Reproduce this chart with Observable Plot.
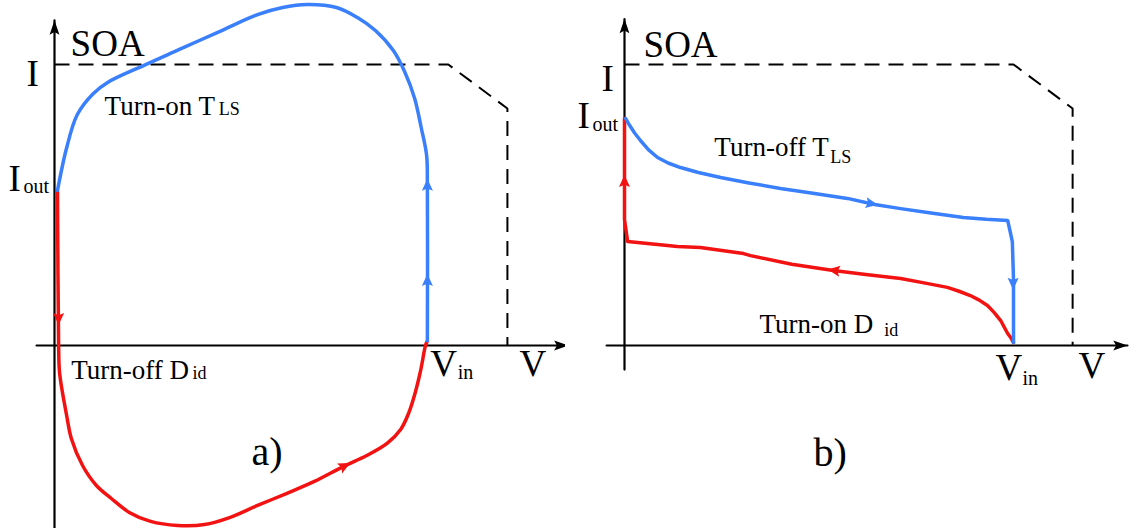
<!DOCTYPE html>
<html><head><meta charset="utf-8">
<script src="https://cdn.jsdelivr.net/npm/d3@7"></script>
<script src="https://cdn.jsdelivr.net/npm/@observablehq/plot@0.6"></script>
<style>
body{margin:0;background:#fff}
#chart{display:flex;width:1130px;height:528px;overflow:hidden}
#chart svg{flex:none}
</style>
</head><body><div id="chart"></div>
<script>
// ---- Panel a data: x = V (Vin = 100), y = I (Iout = 100) ----
const turnOnTLS_a = [[99.7,3],[99.7,105],[99.5,122.6],[98.1,140],[96.3,159.4],[93.6,176.8],[90.6,190.3],[85.8,203.2],[81.0,211.6],[75.4,218.1],[67.6,220],[61.0,218.1],[54.3,213.5],[44.7,203.2],[33.4,191],[23.8,180.6],[14.2,169.7],[10.4,162.6],[6.1,149],[3.2,127.1],[0.8,100]];
const turnOffDid_a = [[0.8,100],[1.1,0],[1.3,-16],[1.9,-27],[3.2,-44.5],[4.5,-60],[7.5,-77.4],[11.2,-90.3],[15.2,-98.7],[20,-107.7],[25.7,-113.5],[32.9,-116.1],[40.1,-115.5],[46.8,-111],[54.3,-103.2],[62,-95.5],[69.5,-87.7],[77.3,-78],[83.5,-71],[89,-63],[92.6,-54],[94.8,-43],[96.5,-30],[97.9,-16.1],[99.2,0],[99.7,3]];
const blueHeads_a = [[99.7,102.7,0],[99.7,41.3,0]];
const redHeads_a = [[1.1,18.1,180],[77.3,-78,63]];
const soa_a = [[0,181.3],[105.3,181.3],[121.1,152.9],[121.1,0]];
const vAxis_a = [[-4.8,0],[137.4,0]];
const iAxis_a = [[0,-118],[0,209.7]];
const axisHeads_a = [[135.0,0,90],[0,203.9,0]];
const labels_a = [
  {v:4.3, i:186.5, text:"SOA", role:"big"},
  {v:-7.5, i:167.7, text:"I", role:"big"},
  {v:-12.3, i:100, text:"I", role:"big"},
  {v:-8.3, i:98.7, text:"out", role:"sub"},
  {v:13.4, i:149, text:"Turn-on T", role:"med"},
  {v:43.9, i:149, text:"LS", role:"sub2"},
  {v:4.5, i:-21.9, text:"Turn-off D", role:"med"},
  {v:36.9, i:-21.9, text:"id", role:"sub2"},
  {v:100.5, i:-19.4, text:"V", role:"big"},
  {v:107.8, i:-21.9, text:"in", role:"sub"},
  {v:124.3, i:-19.4, text:"V", role:"big"},
  {v:52.7, i:-77.4, text:"a)", role:"panel"}
];

// ---- Panel b data ----
const turnOffTLS_b = [[0.3,100],[1.3,97],[2.6,93.6],[4.1,90.3],[6.2,86.2],[8.5,82.8],[11.2,80.4],[14.4,78.4],[19,76.2],[24.7,74],[32,71.6],[40.1,69.2],[48,67.2],[57.3,64.8],[64.3,62.1],[71,60.3],[77.9,58.6],[87.1,56.4],[93,55.6],[98.5,55.1],[99.3,49],[99.7,45.8],[100,29.1],[100,1.3]];
const turnOnDid_b = [[100,1.3],[99.4,3.2],[98.5,5.3],[96.7,11],[95,14.6],[93.3,17.6],[91.2,20],[88.9,22],[86,23.9],[83.0,25.6],[77,27.6],[71.0,29.5],[62,31.3],[53.7,33],[43,35.8],[32.4,39.6],[30.6,40.5],[19.5,43.2],[13.6,43.6],[0.8,45.8],[0,55.5],[0,100]];
const blueHeads_b = [[63.2,62.6,100],[99.9,27.8,180]];
const redHeads_b = [[54.2,33,278],[0,71.8,0]];
const soa_b = [[0,123.8],[100,123.8],[115.2,104.4],[115.2,0]];
const vAxis_b = [[-4.6,0],[129.3,0]];
const iAxis_b = [[0,-10.6],[0,143.8]];
const axisHeads_b = [[127.0,0,90],[0,139.9,0]];
const labels_b = [
  {v:4.9, i:126.9, text:"SOA", role:"big"},
  {v:-5.9, i:111.9, text:"I", role:"big"},
  {v:-12.1, i:95.6, text:"I", role:"big"},
  {v:-8.2, i:94.3, text:"out", role:"sub"},
  {v:23.1, i:83.7, text:"Turn-off T", role:"med"},
  {v:52.9, i:80.6, text:"LS", role:"sub2"},
  {v:34.7, i:5.3, text:"Turn-on D", role:"med"},
  {v:66.8, i:4.4, text:"id", role:"sub2"},
  {v:95.4, i:-15, text:"V", role:"big"},
  {v:102.3, i:-17.2, text:"in", role:"sub"},
  {v:116.7, i:-14.1, text:"V", role:"big"},
  {v:48.6, i:-52.9, text:"b)", role:"panel"}
];

// ---- styles ----
const BLUE = "#3a7ffc", RED = "#f31212";
const FONT = "Liberation Serif";
const fontSizes = {big: 37, med: 27, sub: 20, sub2: 18, panel: 40};
const X = d => d[0], Y = d => d[1], R = d => d[2];

const headSymbol = {draw(ctx, size) {
  const s = Math.sqrt(size / Math.PI);
  ctx.moveTo(0, -1.15 * s); ctx.lineTo(0.85 * s, 0.7 * s); ctx.lineTo(0, 0.35 * s); ctx.lineTo(-0.85 * s, 0.7 * s); ctx.closePath();
}};
const axisSymbol = {draw(ctx, size) {
  const s = Math.sqrt(size / Math.PI);
  ctx.moveTo(0, -1.3 * s); ctx.lineTo(0.7 * s, 0.75 * s); ctx.lineTo(0, 0.35 * s); ctx.lineTo(-0.7 * s, 0.75 * s); ctx.closePath();
}};

function panel(c) {
  const marks = [
    Plot.line(c.soa, {x: X, y: Y, stroke: "#000", strokeWidth: 2, strokeDasharray: "15,9", strokeLinecap: "butt", strokeLinejoin: "miter"}),
    Plot.line(c.vAxis, {x: X, y: Y, stroke: "#000", strokeWidth: 2.2}),
    Plot.line(c.iAxis, {x: X, y: Y, stroke: "#000", strokeWidth: 2.2}),
    Plot.dot(c.axisHeads, {x: X, y: Y, r: 7, symbol: axisSymbol, rotate: R, fill: "#000", stroke: null}),
    Plot.line(c.red, {x: X, y: Y, stroke: RED, strokeWidth: 3.5, curve: c.curve}),
    Plot.line(c.blue, {x: X, y: Y, stroke: BLUE, strokeWidth: 3.5, curve: c.curve}),
    Plot.dot(c.redHeads, {x: X, y: Y, r: 6.5, symbol: headSymbol, rotate: R, fill: RED, stroke: null}),
    Plot.dot(c.blueHeads, {x: X, y: Y, r: 6.5, symbol: headSymbol, rotate: R, fill: BLUE, stroke: null})
  ];
  for (const role of Object.keys(fontSizes)) {
    marks.push(Plot.text(c.labels.filter(l => l.role === role), {
      x: "v", y: "i", text: "text", fontSize: fontSizes[role], fontFamily: FONT,
      textAnchor: "start", lineAnchor: "bottom", fill: "#000"
    }));
  }
  return Plot.plot({
    width: 565, height: 528, margin: 0,
    style: {background: "#fff", overflow: "visible"},
    x: {domain: [0, 100], range: c.xRange, axis: null},
    y: {domain: [0, 100], range: c.yRange, axis: null},
    marks
  });
}

const chart = document.getElementById("chart");
chart.append(panel({xRange: [54, 428], yRange: [345, 190], curve: "catmull-rom", soa: soa_a, vAxis: vAxis_a, iAxis: iAxis_a, axisHeads: axisHeads_a,
  red: turnOffDid_a, blue: turnOnTLS_a, redHeads: redHeads_a, blueHeads: blueHeads_a, labels: labels_a}));
chart.append(panel({xRange: [59, 448], yRange: [345, 118], curve: "linear", soa: soa_b, vAxis: vAxis_b, iAxis: iAxis_b, axisHeads: axisHeads_b,
  red: turnOnDid_b, blue: turnOffTLS_b, redHeads: redHeads_b, blueHeads: blueHeads_b, labels: labels_b}));
</script></body></html>
